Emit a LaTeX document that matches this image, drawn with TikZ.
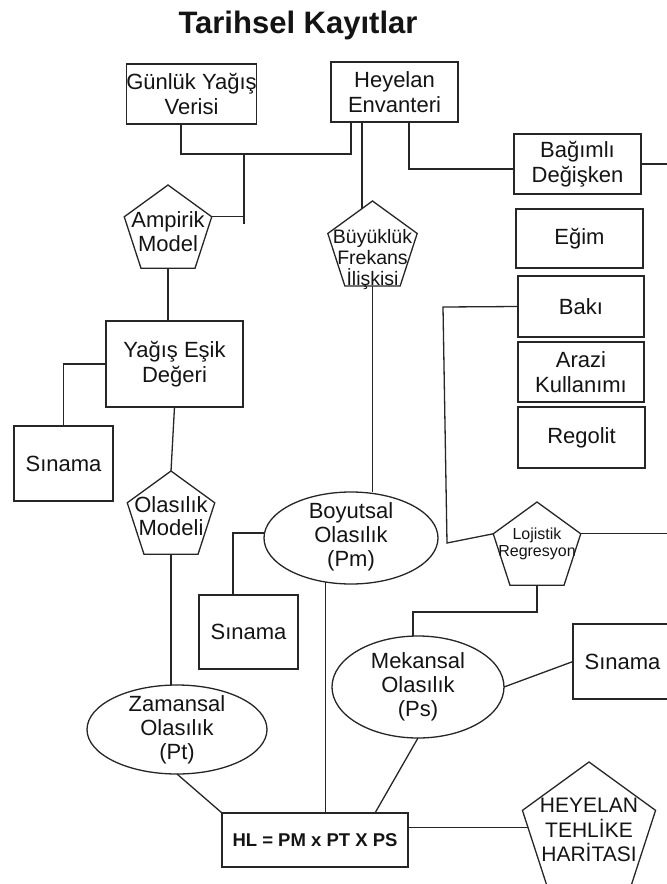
\documentclass[tikz,border=0pt]{standalone}
\usepackage{fontspec}
\setmainfont{Liberation Sans}
\usetikzlibrary{shapes.geometric}
\begin{document}
\begin{tikzpicture}[x=1pt,y=-1pt,
  every node/.style={text=black!92},
  conn/.style={draw=black!85, line width=1.3pt},
  box/.style={conn, rectangle, inner sep=0pt, outer sep=0pt, align=center,
    font=\fontsize{22}{24.5}\selectfont},
  ell/.style={conn, ellipse, inner sep=0pt, outer sep=0pt},
  pent/.style={conn, regular polygon, regular polygon sides=5, inner sep=0pt, outer sep=0pt},
  txt/.style={align=center, inner sep=0pt, font=\fontsize{22}{24}\selectfont},
]
\useasboundingbox (0,0) rectangle (667,884);
\fill[white] (0,0) rectangle (667,884);
\begin{scope}
\clip (0,0) rectangle (667,884);

% heading
\node[font=\bfseries\fontsize{31}{34}\selectfont, anchor=base] (title) at (298,33) {Tarihsel Kayıtlar};

% rectangular boxes
\node[box, minimum width=127pt, minimum height=60pt] (gunluk) at (191.5,94) {Günlük Yağış\\Verisi};
\node[box, minimum width=127pt, minimum height=60pt] (heyelan) at (394.5,92) {Heyelan\\Envanteri};
\node[box, minimum width=127pt, minimum height=60pt] (bagimli) at (577.5,164) {Bağımlı\\Değişken};
\node[box, minimum width=127pt, minimum height=59pt] (egim) at (579.5,238.5) {Eğim};
\node[box, minimum width=126pt, minimum height=61pt] (baki) at (581,306.5) {Bakı};
\node[box, minimum width=126pt, minimum height=60pt] (arazi) at (581,372) {Arazi\\Kullanımı};
\node[box, minimum width=127pt, minimum height=61pt] (regolit) at (581.5,437.5) {Regolit};
\node[box, minimum width=137pt, minimum height=86pt] (yagis) at (174.5,364) {Yağış Eşik\\Değeri};
\node[box, minimum width=99pt, minimum height=75pt] (sinamaA) at (63.5,463.5) {Sınama};
\node[box, minimum width=99pt, minimum height=74pt] (sinamaB) at (248.5,632) {Sınama};
\node[box, minimum width=99pt, minimum height=75pt] (sinamaC) at (622.5,661.5) {Sınama};
\node[box, minimum width=186pt, minimum height=54pt,
      font=\bfseries\fontsize{18.5}{22}\selectfont] (hl) at (315,840) {HL = PM x PT X PS};

% ellipses
\node[ell, minimum width=174pt, minimum height=92pt] (boyutsal) at (351,538) {};
\node[ell, minimum width=172pt, minimum height=102pt] (mekansal) at (418,687) {};
\node[ell, minimum width=180pt, minimum height=89pt] (zamansal) at (177,729.5) {};
\node[txt] (boyutsal-t) at (351,537) {Boyutsal\\Olasılık\\(Pm)};
\node[txt] (mekansal-t) at (418,687) {Mekansal\\Olasılık\\(Ps)};
\node[txt] (zamansal-t) at (177,729.5) {Zamansal\\Olasılık\\(Pt)};

% pentagons
\node[pent, minimum size=92pt] (ampirik) at (168,231) {};
\node[pent, minimum size=94pt] (buyukluk) at (372.5,248) {};
\node[pent, minimum size=92pt] (olasilik) at (171,517) {};
\node[pent, minimum size=92pt] (lojistik) at (537,548) {};
\node[pent, minimum size=140pt] (harita) at (589,832) {};
\node[txt] (ampirik-t) at (168,232) {Ampirik\\Model};
\node[txt, font=\fontsize{19.5}{21}\selectfont] (buyukluk-t) at (372.5,259) {Büyüklük\\Frekans\\İlişkisi};
\node[txt, font=\fontsize{22}{22.5}\selectfont] (olasilik-t) at (171,516) {Olasılık\\Modeli};
\node[txt, font=\fontsize{16}{17.5}\selectfont] (lojistik-t) at (537,544) {Lojistik\\Regresyon};
\node[txt, font=\fontsize{21}{24.5}\selectfont] (harita-t) at (589,830) {HEYELAN\\TEHLİKE\\HARİTASI};

% connectors
\coordinate (j1) at (244,154);
\coordinate (j1end) at (244,224);
\draw[conn] ([xshift=-10.5pt]gunluk.south) |- (j1) -| ([xshift=-43.5pt]heyelan.south);
\draw[conn] (j1) -- (j1end);
\draw[conn] (ampirik.corner 5) -- (ampirik.corner 5 -| j1);
\draw[conn] (ampirik.south) -- (ampirik.south |- yagis.north);
\draw[conn] (yagis.west) -| (sinamaA.north);
\draw[conn] (yagis.south) -- (olasilik.north);
\draw[conn] (olasilik.south) -- (olasilik.south |- zamansal.north);
\draw[conn] (zamansal.south) -- (hl.north west);

\coordinate (bfin) at (362,209);
\draw[conn] (heyelan.south -| bfin) -- (bfin);
\draw[conn] (buyukluk.south) -- (buyukluk.south |- boyutsal.north);

\coordinate (rightedge) at (670,164);
\draw[conn] ([xshift=14.5pt]heyelan.south) |- ([yshift=-5pt]bagimli.west);
\draw[conn] (bagimli.east) -- (rightedge);

\coordinate (bk1) at (443,307);
\coordinate (bk2) at (447,543);
\draw[conn] (baki.west) -- (bk1) -- (bk2) -- (lojistik.corner 2);
\draw[conn] (lojistik.corner 5) -- (lojistik.corner 5 -| rightedge);
\coordinate (lm) at (413,612);
\draw[conn] (lojistik.south) |- (lm) -- (lm |- mekansal.north);
\draw[conn] (mekansal.east) -- (sinamaC.west);
\draw[conn] (mekansal.south) -- ([xshift=60pt]hl.north);

\draw[conn] ([yshift=5pt]boyutsal.west) -| ([xshift=-15.5pt]sinamaB.north);
\draw[conn] (boyutsal.240) -- (boyutsal.240 |- hl.north);
\draw[conn] (harita.176) -- (harita.176 -| hl.east);
\end{scope}
\end{tikzpicture}
\end{document}
